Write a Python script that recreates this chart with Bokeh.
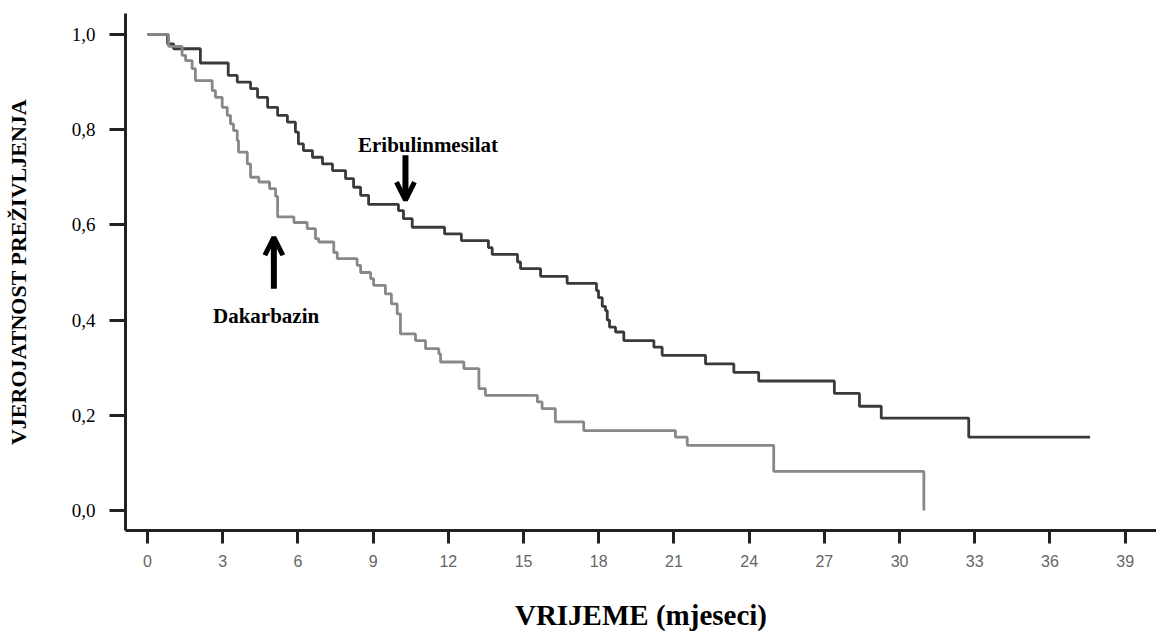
from bokeh.plotting import figure
from bokeh.models import Range1d, FixedTicker, Label, Arrow, OpenHead
from bokeh.embed import file_html
from bokeh.resources import INLINE

# ---- data ----
eri_t = [0, 0.80, 1.04, 2.11, 3.22, 3.58, 4.11, 4.39, 4.79, 5.19, 5.58, 5.90, 6.02, 6.22, 6.58,
         6.98, 7.38, 7.90, 8.22, 8.50, 8.82, 10.01, 10.21, 10.56, 11.85, 12.52, 13.60, 13.75, 14.76,
         14.88, 15.68, 16.74, 17.91, 17.99, 18.14, 18.27, 18.34, 18.43, 18.67, 19.00, 20.20, 20.53,
         22.26, 23.39, 24.38, 27.40, 28.40, 29.27, 32.76, 37.60]
eri_s = [1.0, 0.98, 0.97, 0.94, 0.914, 0.90, 0.886, 0.868, 0.847, 0.83, 0.816, 0.795, 0.77, 0.756,
         0.742, 0.728, 0.714, 0.697, 0.679, 0.662, 0.643, 0.63, 0.613, 0.595, 0.581, 0.567, 0.552,
         0.538, 0.522, 0.508, 0.492, 0.477, 0.462, 0.447, 0.429, 0.42, 0.40, 0.385, 0.375, 0.357,
         0.343, 0.326, 0.308, 0.29, 0.272, 0.246, 0.219, 0.194, 0.154, 0.154]

dak_t = [0, 0.84, 1.38, 1.52, 1.78, 1.91, 2.58, 2.71, 2.98, 3.18, 3.31, 3.43, 3.58, 3.63, 3.98,
         4.11, 4.44, 4.87, 5.11, 5.19, 5.84, 6.37, 6.70, 6.83, 7.43, 7.57, 8.36, 8.50, 8.90, 9.02,
         9.49, 9.73, 9.96, 10.09, 10.69, 11.09, 11.62, 11.69, 12.62, 13.22, 13.48, 15.55, 15.74,
         16.27, 17.40, 21.06, 21.53, 24.98, 30.97]
dak_s = [1.0, 0.975, 0.956, 0.945, 0.928, 0.903, 0.882, 0.868, 0.847, 0.83, 0.812, 0.798, 0.777,
         0.753, 0.728, 0.70, 0.69, 0.676, 0.66, 0.617, 0.605, 0.592, 0.571, 0.564, 0.542, 0.529,
         0.515, 0.50, 0.487, 0.473, 0.455, 0.434, 0.413, 0.371, 0.357, 0.34, 0.329, 0.312, 0.298,
         0.256, 0.242, 0.228, 0.214, 0.186, 0.168, 0.154, 0.137, 0.082, 0.0]

x_ticks = list(range(0, 40, 3))
y_ticks = [0.0, 0.2, 0.4, 0.6, 0.8, 1.0]
y_tick_labels = ["0,0", "0,2", "0,4", "0,6", "0,8", "1,0"]

series_names = ["Eribulinmesilat", "Dakarbazin"]
x_title = "VRIJEME (mjeseci)"
y_title = "VJEROJATNOST PREŽIVLJENJA"

SERIF = "Liberation Serif"
SANS = "Liberation Sans"

p = figure(width=1156, height=633, output_backend="svg", toolbar_location=None,
           x_range=Range1d(-0.878, 40.25), y_range=Range1d(-0.042, 1.044),
           min_border_left=125, min_border_right=0, min_border_top=13, min_border_bottom=90)
p.outline_line_color = None
p.xgrid.visible = False
p.ygrid.visible = False
p.background_fill_color = "white"

# curves
p.step(eri_t, eri_s, mode="after", line_color="#3a3a3a", line_width=2.8)
p.step(dak_t, dak_s, mode="after", line_color="#888888", line_width=2.8)

# axes
for ax in (p.xaxis[0], p.yaxis[0]):
    ax.axis_line_width = 3
    ax.axis_line_color = "#222222"
    ax.major_tick_line_width = 3
    ax.major_tick_line_color = "#222222"
    ax.major_tick_in = 0
    ax.minor_tick_out = 0
    ax.minor_tick_in = 0
    ax.axis_label_text_font = SERIF
    ax.axis_label_text_font_style = "bold"
    ax.axis_label_text_color = "black"

xa = p.xaxis[0]
xa.ticker = FixedTicker(ticks=x_ticks)
xa.major_tick_out = 13
xa.major_label_text_font = SANS
xa.major_label_text_font_size = "16px"
xa.major_label_text_color = "#666666"
xa.major_label_standoff = 11
xa.axis_label = x_title
xa.axis_label_text_font_size = "29px"
xa.axis_label_standoff = 29

ya = p.yaxis[0]
ya.ticker = FixedTicker(ticks=y_ticks)
ya.major_label_overrides = {t: l for t, l in zip(y_ticks, y_tick_labels)}
ya.major_tick_out = 16
ya.major_label_text_font = SERIF
ya.major_label_text_font_size = "19px"
ya.major_label_text_color = "black"
ya.major_label_standoff = 14
ya.axis_label = y_title
ya.axis_label_text_font_size = "22px"
ya.axis_label_standoff = 38

# annotations
p.add_layout(Label(x=11.19, y=0.767, text=series_names[0], text_font=SERIF,
                   text_font_style="bold", text_font_size="21px", text_align="center",
                   text_baseline="alphabetic", text_color="black"))
p.add_layout(Label(x=4.73, y=0.408, text=series_names[1], text_font=SERIF,
                   text_font_style="bold", text_font_size="21px", text_align="center",
                   text_baseline="alphabetic", text_color="black"))
p.add_layout(Arrow(end=OpenHead(size=18, line_width=5, line_color="black"),
                   x_start=10.29, y_start=0.746, x_end=10.29, y_end=0.652,
                   line_width=6, line_color="black"))
p.add_layout(Arrow(end=OpenHead(size=18, line_width=5, line_color="black"),
                   x_start=5.04, y_start=0.466, x_end=5.04, y_end=0.574,
                   line_width=6, line_color="black"))

open("out.html", "w").write(file_html(p, INLINE))
